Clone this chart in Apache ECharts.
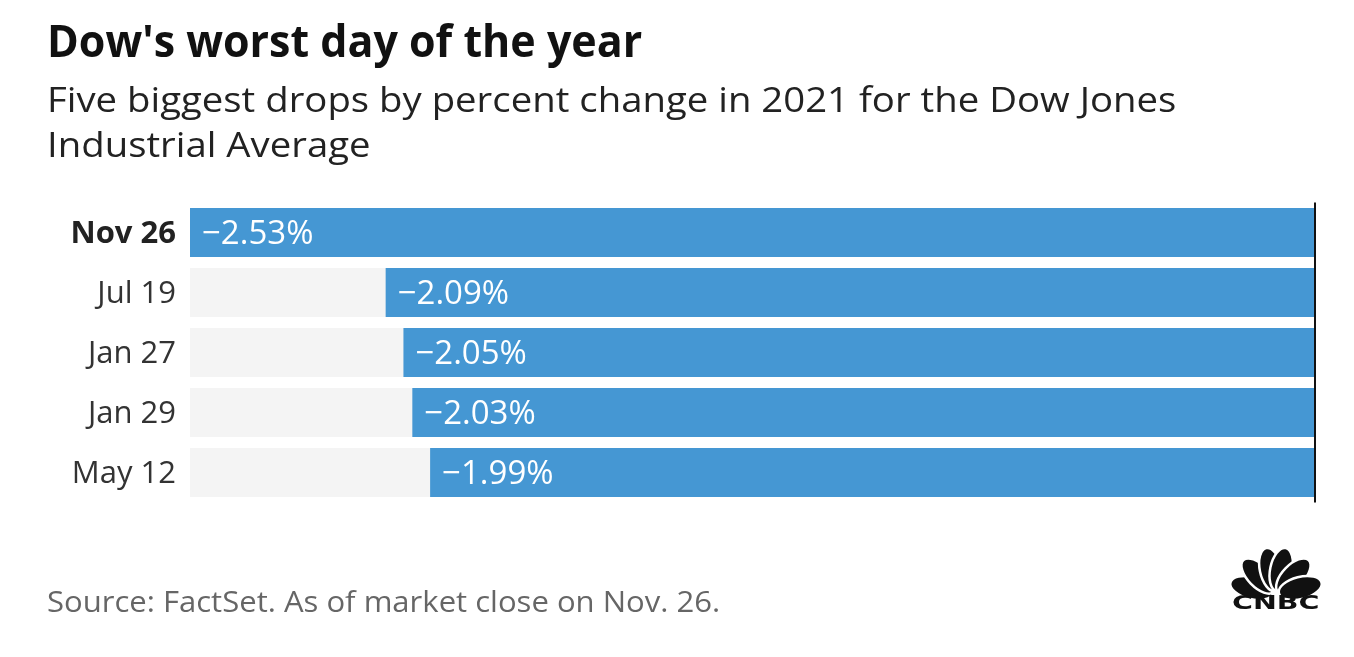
<!DOCTYPE html>
<html>
<head>
<meta charset="utf-8">
<script src="https://cdn.jsdelivr.net/npm/echarts@6/dist/echarts.min.js"></script>
<style>
html,body{margin:0;padding:0;background:#fff;}
#chart{width:1354px;height:657px;}
</style>
</head>
<body>
<div id="chart"></div>
<script>
const categories = ['Nov 26', 'Jul 19', 'Jan 27', 'Jan 29', 'May 12'];
const values = [-2.53, -2.09, -2.05, -2.03, -1.99];
const highlightCategory = 'Nov 26';
const titleText = "Dow's worst day of the year";
const subtitleText = 'Five biggest drops by percent change in 2021 for the Dow Jones\nIndustrial Average';
const sourceText = 'Source: FactSet. As of market close on Nov. 26.';

const FONT = 'Open Sans';
const chart = echarts.init(document.getElementById('chart'), null, {renderer: 'canvas'});

// CNBC logo feathers (decoration)
const base = {x: 1276, y: 594};
const featherAngles = [166, 134, 102, 78, 46, 14];
const feathers = featherAngles.map(a => {
  const t = a * Math.PI / 180;
  const d = 25;
  return {
    type: 'ellipse',
    x: base.x + d * Math.cos(t),
    y: base.y - d * Math.sin(t),
    rotation: t,
    shape: {cx: 0, cy: 0, rx: 22, ry: 11},
    style: {fill: '#111', stroke: '#fff', lineWidth: 2.5},
    z: 100
  };
});

const texts = [
  {type: 'text', x: 47, y: 19, scaleX: 0.955, z: 100,
   style: {text: titleText, fontFamily: FONT, fontWeight: 'bold', fontSize: 45, fill: '#111', lineHeight: 50, verticalAlign: 'top'}},
  {type: 'text', x: 47, y: 80, scaleX: 1.095, z: 100,
   style: {text: subtitleText, fontFamily: FONT, fontWeight: 'normal', fontSize: 35, fill: '#222', lineHeight: 45, verticalAlign: 'top'}},
  {type: 'text', x: 47, y: 586, scaleX: 1.035, z: 100,
   style: {text: sourceText, fontFamily: FONT, fontWeight: 'normal', fontSize: 30, fill: '#666', lineHeight: 34, verticalAlign: 'top'}},
  {type: 'text', x: 1232, y: 595, scaleX: 1.5, z: 100,
   style: {text: 'CNBC', fontFamily: 'DejaVu Sans', fontWeight: 'bold', fontSize: 19, fill: '#111'}}
];

chart.setOption({
  animation: false,
  backgroundColor: '#fff',
  grid: {left: 190, right: 39, top: 202.5, height: 300, containLabel: false},
  xAxis: {
    type: 'value', min: -2.53, max: 0, show: false
  },
  yAxis: {
    type: 'category', data: categories, inverse: true,
    axisLine: {show: false}, axisTick: {show: false}, splitLine: {show: false},
    axisLabel: {
      margin: 14,
      formatter: v => v === highlightCategory ? '{b|' + v + '}' : '{n|' + v + '}',
      rich: {
        b: {fontFamily: FONT, fontWeight: 'bold', fontSize: 31, color: '#222', padding: [4, 0, 0, 0]},
        n: {fontFamily: FONT, fontWeight: 'normal', fontSize: 31, color: '#333', padding: [4, 0, 0, 0]}
      }
    }
  },
  series: [{
    type: 'bar',
    data: values,
    barWidth: 49,
    itemStyle: {color: '#4597d3'},
    showBackground: true,
    backgroundStyle: {color: '#f4f4f4'},
    label: {
      show: true, position: 'insideLeft', distance: 12, offset: [0, 2],
      formatter: p => '\u2212' + Math.abs(p.value).toFixed(2) + '%',
      fontFamily: FONT, fontSize: 33, color: '#fff'
    },
    markLine: {
      silent: true, symbol: 'none', label: {show: false},
      lineStyle: {color: '#111', width: 2, type: 'solid'},
      data: [{xAxis: 0}]
    }
  }],
  graphic: feathers.concat(texts)
});
</script>
</body>
</html>
